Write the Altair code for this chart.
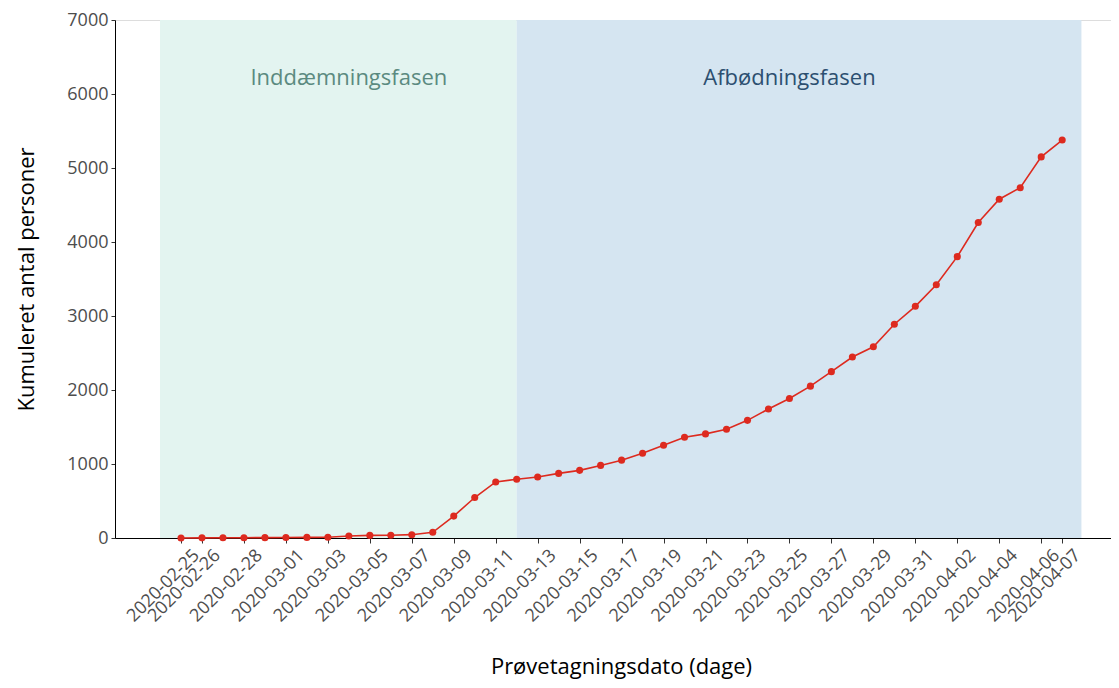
import altair as alt
import pandas as pd

# ---- data ----
dates = [
    "2020-02-25", "2020-02-26", "2020-02-27", "2020-02-28", "2020-02-29",
    "2020-03-01", "2020-03-02", "2020-03-03", "2020-03-04", "2020-03-05",
    "2020-03-06", "2020-03-07", "2020-03-08", "2020-03-09", "2020-03-10",
    "2020-03-11", "2020-03-12", "2020-03-13", "2020-03-14", "2020-03-15",
    "2020-03-16", "2020-03-17", "2020-03-18", "2020-03-19", "2020-03-20",
    "2020-03-21", "2020-03-22", "2020-03-23", "2020-03-24", "2020-03-25",
    "2020-03-26", "2020-03-27", "2020-03-28", "2020-03-29", "2020-03-30",
    "2020-03-31", "2020-04-01", "2020-04-02", "2020-04-03", "2020-04-04",
    "2020-04-05", "2020-04-06", "2020-04-07",
]
cumulative = [
    1, 2, 3, 4, 5,
    6, 8, 10, 28, 35,
    38, 45, 77, 296, 547,
    757, 793, 824, 873, 914,
    981, 1052, 1146, 1254, 1361,
    1407, 1469, 1590, 1743, 1885,
    2052, 2248, 2446, 2584, 2889,
    3131, 3422, 3802, 4263, 4578,
    4734, 5150, 5378,
]

tick_dates = [
    "2020-02-25", "2020-02-26", "2020-02-28", "2020-03-01", "2020-03-03",
    "2020-03-05", "2020-03-07", "2020-03-09", "2020-03-11", "2020-03-13",
    "2020-03-15", "2020-03-17", "2020-03-19", "2020-03-21", "2020-03-23",
    "2020-03-25", "2020-03-27", "2020-03-29", "2020-03-31", "2020-04-02",
    "2020-04-04", "2020-04-06", "2020-04-07",
]

phase_names = ["Inddæmningsfasen", "Afbødningsfasen"]
phase_start = ["2020-02-24", "2020-03-12"]
phase_end = ["2020-03-12", "2020-04-07T22:00"]
phase_label_date = ["2020-03-04", "2020-03-25"]
phase_label_value = [6220, 6220]

y_ticks = [0, 1000, 2000, 3000, 4000, 5000, 6000, 7000]

# ---- styling ----
FONT = "Open Sans"
LINE_RED = "#dd2a1f"
phase_fill = ["#e3f4f0", "#d5e5f1"]
phase_text = ["#5b8a80", "#2c4f70"]

W, H = 996, 518

df = pd.DataFrame({"date": dates, "value": cumulative})
phases = pd.DataFrame({
    "phase": phase_names,
    "start": phase_start,
    "end": phase_end,
    "label_date": phase_label_date,
    "label_value": phase_label_value,
})


def dt(s, h=0, m=0):
    y, mo, d = (int(p) for p in s.split("-"))
    return alt.DateTime(year=y, month=mo, date=d, hours=h, minutes=m, utc=True)


x_scale = alt.Scale(type="utc", domain=[dt("2020-02-21", 20, 30), dt("2020-04-09", 7, 50)])
y_scale = alt.Scale(domain=[0, 7000], nice=False, zero=True)

x_axis = alt.Axis(
    values=[dt(s) for s in tick_dates],
    format="%Y-%m-%d",
    labelAngle=-45,
    labelAlign="right",
    labelBaseline="top",
    labelFont=FONT,
    labelFontSize=18,
    labelColor="#4d4d4d",
    labelOverlap=False,
    labelPadding=3,
    labelOffset=9,
    tickSize=5,
    tickColor="#333333",
    domainColor="#000000",
    grid=False,
    title="Prøvetagningsdato (dage)",
    titleFont=FONT,
    titleFontSize=22,
    titleFontWeight="normal",
    titleColor="#000000",
    titleX=506,
    titleY=128,
    titleAlign="center",
    titleBaseline="middle",
)

y_axis = alt.Axis(
    values=y_ticks,
    format="d",
    labelFont=FONT,
    labelFontSize=18,
    labelColor="#4d4d4d",
    labelPadding=3,
    tickSize=4,
    tickColor="#333333",
    domainColor="#000000",
    grid=False,
    title="Kumuleret antal personer",
    titleFont=FONT,
    titleFontSize=22,
    titleFontWeight="normal",
    titleColor="#000000",
    titleX=-89,
    titleY=H / 2,
    titleAngle=270,
    titleAlign="center",
    titleBaseline="middle",
)

bg = alt.Chart(phases).mark_rect().encode(
    x=alt.X("start:T", scale=x_scale, axis=x_axis),
    x2="end:T",
    y=alt.datum(0, scale=y_scale, axis=y_axis),
    y2=alt.datum(7000),
    color=alt.Color("phase:N", scale=alt.Scale(domain=phase_names, range=phase_fill), legend=None),
)

labels = alt.Chart(phases).mark_text(font=FONT, fontSize=22, baseline="middle", align="center").encode(
    x=alt.X("label_date:T"),
    y=alt.Y("label_value:Q"),
    text="phase:N",
    color=alt.Color("phase:N", scale=alt.Scale(domain=phase_names, range=phase_text), legend=None),
)

line = alt.Chart(df).mark_line(color=LINE_RED, strokeWidth=1.6).encode(
    x=alt.X("date:T"),
    y=alt.Y("value:Q"),
)

points = alt.Chart(df).mark_circle(color=LINE_RED, size=50, opacity=1).encode(
    x=alt.X("date:T"),
    y=alt.Y("value:Q"),
)

chart = (
    alt.layer(bg, labels, line, points)
    .resolve_scale(color="independent")
    .properties(
        width=W,
        height=H,
        autosize=alt.AutoSizeParams(type="none"),
        padding={"left": 107, "top": 12, "right": 0, "bottom": 143},
    )
    .configure_view(stroke=None)
    .configure(background="#ffffff")
)

chart.save("out.html", embed_options={"renderer": "svg", "actions": False})
